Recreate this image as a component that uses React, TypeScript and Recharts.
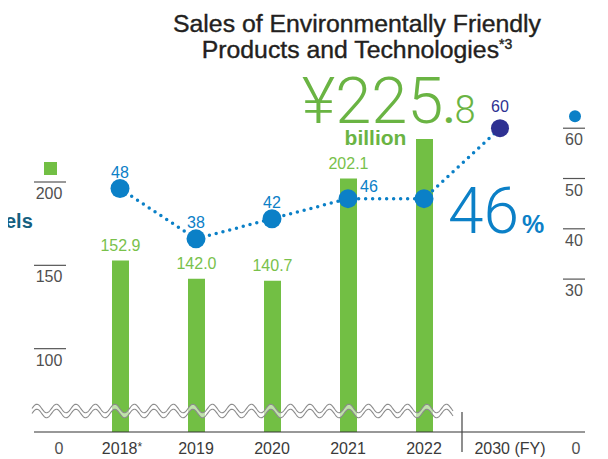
import React from 'react';
import {
  ComposedChart,
  Bar,
  Line,
  XAxis,
  YAxis,
  ReferenceLine,
  LabelList,
} from 'recharts';

const years = ['2018*', '2019', '2020', '2021', '2022', '2030 (FY)'];
const salesBillionYen = [152.9, 142.0, 140.7, 202.1, 225.8, null];
const ratioPercent = [48, 38, 42, 46, 46, 60];
// left axis is broken: 50 sits on the baseline and is shown as "0"
const salesTicks = [50, 100, 150, 200];
const ratioTicks = [0, 30, 40, 50, 60];

const SALES_BASE = 50;
const GREEN = '#72bf44';
const GREEN_TEXT = '#79c14b';
const GREEN_BIG = '#6ab443';
const BLUE = '#0b80c7';
const NAVY = '#2e3192';
const GRAY = '#505050';
const FONT = '"Liberation Sans", Arial, sans-serif';
const LIGHT = 'Roboto, "Liberation Sans", sans-serif';

const data = years.map((year, i) => ({
  year,
  sales: salesBillionYen[i],
  ratio: ratioPercent[i],
}));

const SalesTick = (props: any) => {
  const { x, y, payload } = props;
  const v = payload.value;
  if (v === SALES_BASE) {
    return (
      <text x={x + 25} y={y + 22} textAnchor="middle" fontSize={16} fill={GRAY} fontFamily={FONT}>
        0
      </text>
    );
  }
  return (
    <g>
      {v === 200 && <rect x={x + 10} y={y - 20} width={13} height={13} fill={GREEN} />}
      <line x1={x} x2={x + 32} y1={y} y2={y} stroke="#555" strokeWidth={1.2} />
      <text x={x + 15} y={y + 17} textAnchor="middle" fontSize={16} fill={GRAY} fontFamily={FONT}>
        {v}
      </text>
    </g>
  );
};

const RatioTick = (props: any) => {
  const { x, y, payload } = props;
  const v = payload.value;
  if (v === 0) {
    return (
      <text x={x - 9} y={y + 24} textAnchor="middle" fontSize={16} fill={GRAY} fontFamily={FONT}>
        0
      </text>
    );
  }
  return (
    <g>
      {v === 60 && <circle cx={x - 10} cy={y - 12} r={6} fill={BLUE} />}
      <line x1={x - 22} x2={x} y1={y} y2={y} stroke="#555" strokeWidth={1.2} />
      <text x={x - 11} y={y + 17} textAnchor="middle" fontSize={16} fill={GRAY} fontFamily={FONT}>
        {v}
      </text>
    </g>
  );
};

const YearTick = (props: any) => {
  const { x, y, payload } = props;
  const label: string = payload.value;
  const isTarget = label.startsWith('2030');
  const shift = isTarget ? 10 : label.endsWith('*') ? 2 : 0;
  return (
    <g>
      {isTarget && <line x1={x - 38} x2={x - 38} y1={y - 20} y2={y + 20} stroke="#444" strokeWidth={1.2} />}
      <text x={x + shift} y={y + 22} textAnchor="middle" fontSize={16} fill="#3a3a3a" fontFamily={FONT}>
        {label.replace('*', '')}
        {label.endsWith('*') && <tspan fontSize={12} dy={-3}>*</tspan>}
      </text>
    </g>
  );
};

// double wavy line marking the axis break
const WaveBreak = (props: any) => {
  const { x1, y1, x2 } = props;
  const start = x1 - 2;
  const end = x2 - 132;
  const amp = 4.3;
  const period = 19.5;
  const gap = 5;
  const top: string[] = [];
  const bottom: string[] = [];
  for (let x = start; x <= end; x += 1) {
    const s = amp * Math.sin(((x - start) / period) * 2 * Math.PI + Math.PI);
    top.push(`${x},${(y1 - gap / 2 + s).toFixed(2)}`);
    bottom.push(`${x},${(y1 + gap / 2 + s).toFixed(2)}`);
  }
  const band = `M${top.join(' L')} L${[...bottom].reverse().join(' L')} Z`;
  return (
    <g>
      <path d={band} fill="#fff" fillOpacity={0.55} stroke="none" />
      <path d={`M${top.join(' L')}`} fill="none" stroke="#8c8c8c" strokeWidth={1.1} />
      <path d={`M${bottom.join(' L')}`} fill="none" stroke="#8c8c8c" strokeWidth={1.1} />
    </g>
  );
};

const SalesLabel = (props: any) => {
  const { x, y, width, value, index } = props;
  if (value == null) return null;
  const cx = x + width / 2;
  if (index === 4) {
    return (
      <g fill={GREEN_BIG}>
        <text x={cx + 51} y={y - 16} textAnchor="end" fontFamily={LIGHT}>
          <tspan fontSize={65} fontWeight={300}>¥225</tspan>
          <tspan fontSize={38} fontWeight={700}>.</tspan>
          <tspan fontSize={38} fontWeight={300}>8</tspan>
        </text>
        <text x={cx - 49} y={y + 6} textAnchor="middle" fontSize={21} fontWeight={700} fontFamily={FONT}>
          billion
        </text>
      </g>
    );
  }
  return (
    <text x={cx} y={y - 10} textAnchor="middle" fontSize={16} fill={GREEN_TEXT} fontFamily={FONT}>
      {value.toFixed(1)}
    </text>
  );
};

const RatioLabel = (props: any) => {
  const { x, y, value, index } = props;
  if (index === 4) {
    return (
      <text x={x + 24} y={y + 34} fill={BLUE} fontFamily={LIGHT}>
        <tspan fontSize={64} fontWeight={300}>46</tspan>
        <tspan fontSize={25} fontWeight={700} dx={3} fontFamily={FONT}>%</tspan>
      </text>
    );
  }
  if (index === 3) {
    return (
      <text x={x + 21} y={y - 7} textAnchor="middle" fontSize={16} fill={BLUE} fontFamily={FONT}>
        {value}
      </text>
    );
  }
  const isTarget = index === years.length - 1;
  return (
    <text x={x} y={isTarget ? y - 16 : y - 11} textAnchor="middle" fontSize={16} fill={isTarget ? NAVY : BLUE} fontFamily={FONT}>
      {value}
    </text>
  );
};

const RatioDot = (props: any) => {
  const { cx, cy, index } = props;
  const isTarget = index === years.length - 1;
  return <circle key={`dot-${index}`} cx={cx} cy={cy} r={isTarget ? 9 : 9.5} fill={isTarget ? NAVY : BLUE} />;
};

const App = () => {
  return (
    <div style={{ position: 'relative', width: 600, height: 451, fontFamily: FONT }}>
      <div
        style={{
          position: 'absolute',
          left: 349,
          top: 3,
          transform: 'translateX(-50%)',
          textAlign: 'center',
          whiteSpace: 'nowrap',
          fontSize: 24.8,
          lineHeight: '26px',
          color: '#231f20',
          WebkitTextStroke: '0.4px #231f20',
        }}
      >
        Sales of Environmentally Friendly
        <br />
        Products and Technologies<sup style={{ fontSize: 14, verticalAlign: 'top', lineHeight: '14px' }}>*3</sup>
      </div>
      {/* pieces of the neighbouring panel that show at the left edge */}
      <div style={{ position: 'absolute', left: -6, top: 80, fontSize: 16, color: GREEN_BIG }}>/</div>
      <div
        style={{
          position: 'absolute',
          left: -3,
          top: 202,
          fontSize: 20,
          fontWeight: 700,
          color: '#16607f',
        }}
      >
        els
      </div>
      <ComposedChart
        width={600}
        height={451}
        data={data}
        margin={{ top: 84, right: 22, bottom: 0, left: 25 }}
        style={{ position: 'absolute', left: 0, top: 0 }}
      >
        <XAxis
          dataKey="year"
          padding={{ left: 48, right: 47 }}
          axisLine={{ stroke: '#333', strokeWidth: 1.2 }}
          tickLine={false}
          tickSize={0}
          tickMargin={0}
          interval={0}
          height={27}
          tick={<YearTick />}
        />
        <YAxis
          yAxisId="sales"
          orientation="left"
          width={1}
          domain={[SALES_BASE, 254]}
          ticks={salesTicks}
          interval={0}
          axisLine={false}
          tickLine={false}
          tickSize={0}
          tickMargin={0}
          allowDataOverflow
          tick={<SalesTick />}
        />
        <YAxis
          yAxisId="ratio"
          orientation="right"
          width={1}
          domain={[-0.4, 67.2]}
          ticks={ratioTicks}
          interval={0}
          axisLine={false}
          tickLine={false}
          tickSize={0}
          tickMargin={0}
          allowDataOverflow
          tick={<RatioTick />}
        />
        <Bar yAxisId="sales" dataKey="sales" fill={GREEN} barSize={17} isAnimationActive={false}>
          <LabelList dataKey="sales" content={<SalesLabel />} />
        </Bar>
        <ReferenceLine yAxisId="sales" y={62.6} shape={WaveBreak} />
        <Line
          yAxisId="ratio"
          dataKey="ratio"
          stroke={BLUE}
          strokeWidth={3.5}
          strokeDasharray="0 7"
          strokeLinecap="round"
          dot={<RatioDot />}
          activeDot={false}
          isAnimationActive={false}
        >
          <LabelList dataKey="ratio" content={<RatioLabel />} />
        </Line>
      </ComposedChart>
    </div>
  );
};

export default App;
